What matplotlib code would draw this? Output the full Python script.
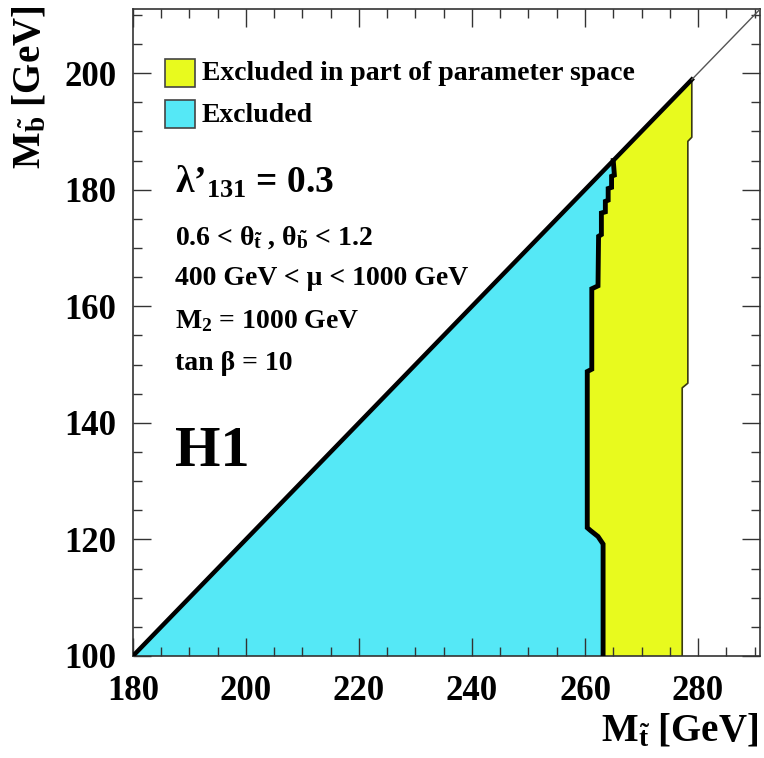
import numpy as np
import matplotlib.pyplot as plt
from matplotlib.patches import Rectangle

plt.rcParams['font.family'] = ['Liberation Serif', 'DejaVu Serif']
plt.rcParams['font.weight'] = 'bold'
plt.rcParams['mathtext.fontset'] = 'custom'
plt.rcParams['mathtext.rm'] = 'Liberation Serif:bold'
plt.rcParams['mathtext.it'] = 'Liberation Serif:bold'
plt.rcParams['mathtext.bf'] = 'Liberation Serif:bold'

# limit contours (M_stop, M_sbottom) in GeV, read from top to bottom
excl_x = [265.0, 265.2, 264.7, 264.7, 264.1, 264.1, 263.6, 263.6, 262.9, 262.9,
          262.4, 262.3, 261.2, 261.2, 260.4, 260.4, 261.0, 262.3, 263.2, 263.2]
excl_y = [185.0, 182.5, 182.3, 180.4, 180.2, 178.2, 178.0, 176.2, 176.0, 172.3,
          172.0, 163.5, 163.0, 149.2, 148.8, 122.0, 121.5, 120.5, 119.2, 100.0]
part_x = [278.9, 278.9, 278.2, 278.2, 277.2, 277.2]
part_y = [198.9, 189.0, 188.3, 146.8, 146.0, 100.0]

xmin, xmax = 180, 291
ymin, ymax = 100, 211
diag_off = 80  # kinematic limit M_sb = M_st - 80

cyan = '#55e8f6'
yellow = '#e8fa1e'

fig = plt.figure(figsize=(7.64, 7.58), dpi=100)
ax = fig.add_axes([0.174, 0.1346, 0.821, 0.8535])

ex = np.array(excl_x)
ey = np.array(excl_y)
px = np.array(part_x)
py = np.array(part_y)

# fully excluded region: below diagonal, left of the black contour
cyan_x = np.concatenate([[xmin], ex, [xmin]])
cyan_y = np.concatenate([[ymin], ey, [ymin]])
ax.fill(cyan_x, cyan_y, color=cyan, lw=0, zorder=1)

# partly excluded band between the two contours
yel_x = np.concatenate([[ex[0]], px, ex[::-1]])
yel_y = np.concatenate([[ey[0]], py, ey[::-1]])
ax.fill(yel_x, yel_y, color=yellow, lw=0, zorder=1)
ax.plot(px, py, color='#3a3a10', lw=1.2, zorder=2)

ax.plot(ex, ey, color='black', lw=3.5, solid_joinstyle='miter', zorder=3)

# diagonal M_sb = M_st - 80
ax.plot([xmin, px[0]], [xmin - diag_off, px[0] - diag_off], color='black', lw=3.2, zorder=3)
ax.plot([px[0], xmax], [px[0] - diag_off, xmax - diag_off], color='#555555', lw=1.0, zorder=3)

ax.set_xlim(xmin, xmax)
ax.set_ylim(ymin, ymax)
ax.set_xticks([180, 200, 220, 240, 260, 280])
ax.set_yticks([100, 120, 140, 160, 180, 200])
ax.set_xticks(np.arange(185, 291, 5), minor=True)
ax.set_yticks(np.arange(105, 211, 5), minor=True)
ax.tick_params(which='both', direction='in', top=True, right=True, color='#333333', width=1.0)
ax.tick_params(which='major', length=13, labelsize=25)
ax.tick_params(axis='x', which='major', pad=14)
ax.tick_params(axis='y', which='major', pad=12)
ax.tick_params(which='minor', length=6.5)
for lab in ax.get_xticklabels() + ax.get_yticklabels():
    lab.set_fontweight('bold')
for s in ax.spines.values():
    s.set_color('#333333')
    s.set_linewidth(1.2)

fig.text(0.992, 0.035, r'M$_{\tilde{t}}$ [GeV]', fontsize=28, fontweight='bold', ha='right', va='center')
fig.text(0.04, 0.992, r'M$_{\tilde{b}}$ [GeV]', fontsize=28, fontweight='bold', ha='center', va='top', rotation=90)

# legend boxes
ax.add_patch(Rectangle((185.6, 197.6), 5.3, 4.9, facecolor=yellow, edgecolor='#444444', lw=1.2, zorder=4))
ax.add_patch(Rectangle((185.6, 190.6), 5.3, 4.8, facecolor=cyan, edgecolor='#444444', lw=1.2, zorder=4))
ax.text(192.2, 199.9, 'Excluded in part of parameter space', fontsize=20, fontweight='bold', va='center')
ax.text(192.2, 192.7, 'Excluded', fontsize=20, fontweight='bold', va='center')

ax.text(187.4, 181.3, '\u03bb\u2019$_{131}$ = 0.3', fontsize=27, fontweight='bold', va='center')
ax.text(187.4, 171.7, r'0.6 < $\theta_{\tilde{t}}$ , $\theta_{\tilde{b}}$ < 1.2', fontsize=20, fontweight='bold', va='center')
ax.text(187.4, 164.8, '400 GeV < \u03bc < 1000 GeV', fontsize=20, fontweight='bold', va='center')
ax.text(187.4, 157.4, 'M$_2$ = 1000 GeV', fontsize=20, fontweight='bold', va='center')
ax.text(187.4, 150.2, 'tan \u03b2 = 10', fontsize=20, fontweight='bold', va='center')
ax.text(187.4, 135.0, 'H1', fontsize=42, fontweight='bold', va='center')

fig.savefig('out.png', dpi=100)
